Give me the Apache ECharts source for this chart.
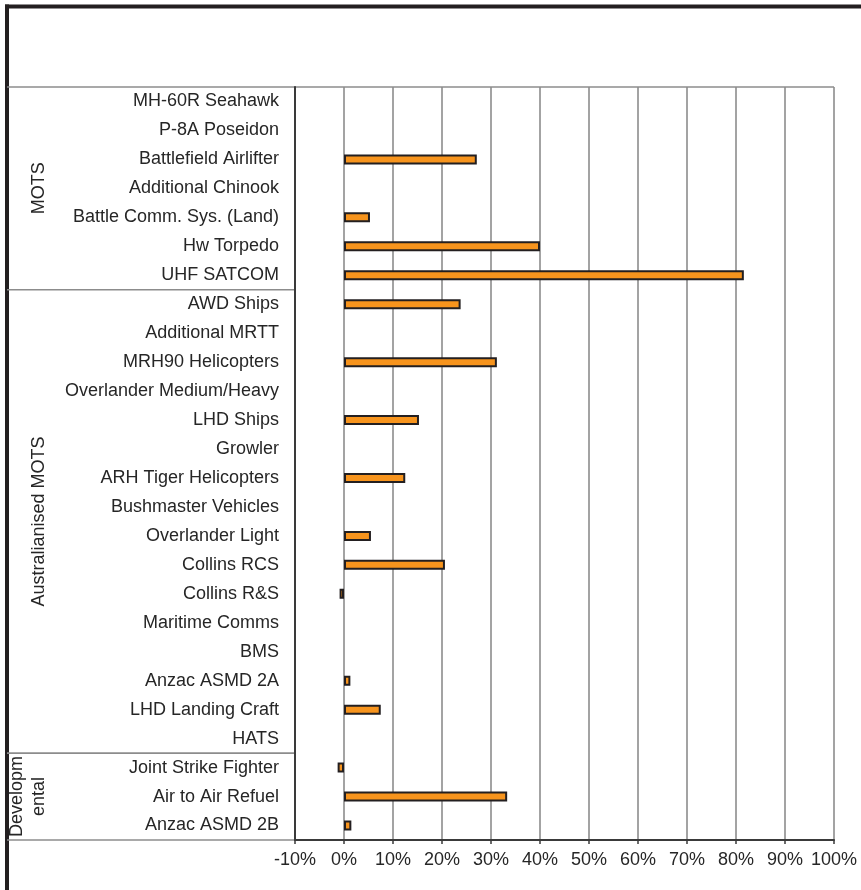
<!DOCTYPE html>
<html>
<head>
<meta charset="utf-8">
<script src="https://cdn.jsdelivr.net/npm/echarts@6/dist/echarts.min.js"></script>
<style>
html,body{margin:0;padding:0;background:#fff;}
#chart{width:861px;height:890px;}
</style>
</head>
<body>
<div id="chart"></div>
<script>
const categories = [
  "MH-60R Seahawk","P-8A Poseidon","Battlefield Airlifter","Additional Chinook",
  "Battle Comm. Sys. (Land)","Hw Torpedo","UHF SATCOM",
  "AWD Ships","Additional MRTT","MRH90 Helicopters","Overlander Medium/Heavy",
  "LHD Ships","Growler","ARH Tiger Helicopters","Bushmaster Vehicles",
  "Overlander Light","Collins RCS","Collins R&S","Maritime Comms","BMS",
  "Anzac ASMD 2A","LHD Landing Craft","HATS",
  "Joint Strike Fighter","Air to Air Refuel","Anzac ASMD 2B"
];
const values = [
  null, null, 27.1, null, 5.3, 40.0, 81.6,
  23.8, null, 31.2, null, 15.3, null, 12.5, null,
  5.5, 20.6, -0.9, null, null, 1.3, 7.5, null,
  -1.3, 33.3, 1.5
];
const groups = [
  { lines: ["MOTS"], from: 0, to: 6 },
  { lines: ["Australianised MOTS"], from: 7, to: 22 },
  { lines: ["Developm", "ental"], from: 23, to: 25 }
];
const xTicks = { min: -10, max: 100, step: 10 };

(function () {
const chart = echarts.init(document.getElementById('chart'), null, { renderer: 'canvas' });
const FONT = 'Liberation Sans, Arial, sans-serif';
const TXT = '#262626';
const FS = 18;
const GRID = { left: 295, right: 27, top: 87, bottom: 50 };

chart.setOption({
  animation: false,
  backgroundColor: '#ffffff',
  grid: { left: GRID.left, right: GRID.right, top: GRID.top, bottom: GRID.bottom, containLabel: false },
  xAxis: {
    type: 'value', min: xTicks.min, max: xTicks.max, interval: xTicks.step,
    axisLabel: { formatter: '{value}%', fontFamily: FONT, fontSize: FS, color: TXT, margin: 11 },
    axisLine: { show: true, onZero: false, lineStyle: { color: '#3a3a3a', width: 2 } },
    axisTick: { show: true, length: 4, lineStyle: { color: '#3a3a3a', width: 1.5 } },
    splitLine: { show: true, lineStyle: { color: '#8c8c8c', width: 1.6 } }
  },
  yAxis: {
    type: 'category', data: categories, inverse: true,
    axisLabel: { fontFamily: FONT, fontSize: FS, color: TXT, margin: 16 },
    axisLine: { show: true, onZero: false, lineStyle: { color: '#3a3a3a', width: 2 } },
    axisTick: { show: false },
    splitLine: { show: false }
  },
  series: [{
    type: 'bar', data: values, barWidth: 10,
    itemStyle: { color: '#F7941D', borderColor: '#231F20', borderWidth: 2 }
  }]
});

const W = 861, H = 890;
const plotTop = GRID.top, plotBottom = H - GRID.bottom, plotRight = W - GRID.right;
const rowH = (plotBottom - plotTop) / categories.length;
const frameX = 7, frameY = 6.5;
const gfx = [];
gfx.push({ type: 'line', shape: { x1: frameX - 2, y1: frameY, x2: W, y2: frameY }, style: { stroke: '#231F20', lineWidth: 4 } });
gfx.push({ type: 'line', shape: { x1: frameX, y1: frameY - 2, x2: frameX, y2: H }, style: { stroke: '#231F20', lineWidth: 4 } });
gfx.push({ type: 'line', shape: { x1: frameX, y1: plotTop, x2: plotRight, y2: plotTop }, style: { stroke: '#8c8c8c', lineWidth: 1.6 } });
gfx.push({ type: 'line', shape: { x1: frameX, y1: plotBottom, x2: GRID.left, y2: plotBottom }, style: { stroke: '#8c8c8c', lineWidth: 1.6 } });
groups.forEach((g, i) => {
  const y0 = plotTop + g.from * rowH, y1 = plotTop + (g.to + 1) * rowH;
  if (i > 0) {
    gfx.push({ type: 'line', shape: { x1: frameX, y1: y0, x2: GRID.left, y2: y0 }, style: { stroke: '#8c8c8c', lineWidth: 1.6 } });
  }
  const cy = (y0 + y1) / 2;
  const lh = 22;
  const n = g.lines.length;
  g.lines.forEach((t, k) => {
    const cx = 39 - (n - 1 - k) * lh;
    gfx.push({
      type: 'text', x: cx, y: cy, rotation: Math.PI / 2,
      style: { text: t, fontFamily: FONT, fontSize: FS, fill: TXT, textAlign: 'center', textVerticalAlign: 'middle' }
    });
  });
});
chart.setOption({ graphic: gfx });
})();
</script>
</body>
</html>
